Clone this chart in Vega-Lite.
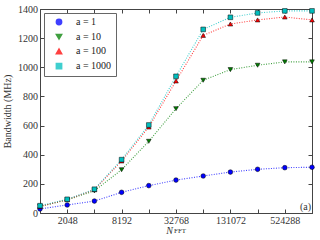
{
  "$schema": "https://vega.github.io/schema/vega-lite/v6.json",
  "width": 272,
  "height": 204,
  "autosize": {"type": "none"},
  "padding": {"left": 40, "top": 9, "right": 8, "bottom": 27},
  "config": {
    "font": "Liberation Serif",
    "view": {"stroke": "#444", "strokeWidth": 1},
    "axis": {
      "grid": false,
      "domainColor": "#444",
      "tickColor": "#444",
      "labelColor": "#333",
      "titleColor": "#333",
      "labelFont": "Liberation Serif",
      "titleFont": "Liberation Serif",
      "labelFontSize": 10,
      "titleFontSize": 10,
      "titleFontWeight": "normal"
    },
    "legend": {
      "labelFont": "Liberation Serif",
      "labelFontSize": 10,
      "labelColor": "#222",
      "padding": 4,
      "symbolSize": 28,
      "symbolOffset": 6,
      "labelOffset": 12,
      "rowPadding": 2.7,
      "orient": "top-left",
      "offset": 4,
      "strokeColor": "#666",
      "fillColor": "white",
      "cornerRadius": 0
    }
  },
  "data": {
    "values": [
      {"n": 1024, "bw": 28, "a": "a = 1"},
      {"n": 2048, "bw": 55, "a": "a = 1"},
      {"n": 4096, "bw": 82, "a": "a = 1"},
      {"n": 8192, "bw": 142, "a": "a = 1"},
      {"n": 16384, "bw": 188, "a": "a = 1"},
      {"n": 32768, "bw": 226, "a": "a = 1"},
      {"n": 65536, "bw": 254, "a": "a = 1"},
      {"n": 131072, "bw": 281, "a": "a = 1"},
      {"n": 262144, "bw": 300, "a": "a = 1"},
      {"n": 524288, "bw": 311, "a": "a = 1"},
      {"n": 1048576, "bw": 314, "a": "a = 1"},
      {"n": 1024, "bw": 45, "a": "a = 10"},
      {"n": 2048, "bw": 90, "a": "a = 10"},
      {"n": 4096, "bw": 152, "a": "a = 10"},
      {"n": 8192, "bw": 297, "a": "a = 10"},
      {"n": 16384, "bw": 492, "a": "a = 10"},
      {"n": 32768, "bw": 716, "a": "a = 10"},
      {"n": 65536, "bw": 911, "a": "a = 10"},
      {"n": 131072, "bw": 984, "a": "a = 10"},
      {"n": 262144, "bw": 1014, "a": "a = 10"},
      {"n": 524288, "bw": 1037, "a": "a = 10"},
      {"n": 1048576, "bw": 1037, "a": "a = 10"},
      {"n": 1024, "bw": 45, "a": "a = 100"},
      {"n": 2048, "bw": 92, "a": "a = 100"},
      {"n": 4096, "bw": 160, "a": "a = 100"},
      {"n": 8192, "bw": 357, "a": "a = 100"},
      {"n": 16384, "bw": 590, "a": "a = 100"},
      {"n": 32768, "bw": 906, "a": "a = 100"},
      {"n": 65536, "bw": 1219, "a": "a = 100"},
      {"n": 131072, "bw": 1297, "a": "a = 100"},
      {"n": 262144, "bw": 1325, "a": "a = 100"},
      {"n": 524288, "bw": 1345, "a": "a = 100"},
      {"n": 1048576, "bw": 1325, "a": "a = 100"},
      {"n": 1024, "bw": 50, "a": "a = 1000"},
      {"n": 2048, "bw": 94, "a": "a = 1000"},
      {"n": 4096, "bw": 163, "a": "a = 1000"},
      {"n": 8192, "bw": 366, "a": "a = 1000"},
      {"n": 16384, "bw": 604, "a": "a = 1000"},
      {"n": 32768, "bw": 938, "a": "a = 1000"},
      {"n": 65536, "bw": 1260, "a": "a = 1000"},
      {"n": 131072, "bw": 1343, "a": "a = 1000"},
      {"n": 262144, "bw": 1373, "a": "a = 1000"},
      {"n": 524288, "bw": 1387, "a": "a = 1000"},
      {"n": 1048576, "bw": 1387, "a": "a = 1000"}
    ]
  },
  "layer": [
    {
      "mark": {"type": "line", "strokeDash": [1, 1.5], "strokeWidth": 1.1, "opacity": 0.75},
      "encoding": {
        "x": {
          "field": "n", "type": "quantitative",
          "scale": {"type": "log", "base": 2, "domain": [1024, 1048576], "nice": false},
          "axis": {
            "orient": "bottom",
            "values": [2048, 4096, 8192, 16384, 32768, 65536, 131072, 262144, 524288],
            "labelExpr": "round(log(datum.value)/LN2) % 2 == 1 ? format(datum.value, 'd') : ''",
            "tickSize": -4,
            "labelPadding": 6,
            "title": "N",
            "titleFontStyle": "italic",
            "titleX": 129,
            "titlePadding": 0
          }
        },
        "y": {
          "field": "bw", "type": "quantitative",
          "scale": {"domain": [0, 1400], "nice": false},
          "axis": {
            "orient": "left",
            "values": [0, 200, 400, 600, 800, 1000, 1200, 1400],
            "format": "d",
            "tickSize": -4,
            "labelPadding": 6.5,
            "title": "Bandwidth (MHz)",
            "titlePadding": 5
          }
        },
        "color": {
          "field": "a", "type": "nominal",
          "scale": {"domain": ["a = 1", "a = 10", "a = 100", "a = 1000"], "range": ["#0000ff", "#008000", "#ff0000", "#00bfbf"]},
          "legend": {"title": null, "strokeColor": "#666", "fillColor": "white"}
        }
      }
    },
    {
      "mark": {"type": "point", "filled": true, "stroke": "black", "strokeWidth": 0.5, "opacity": 1, "size": 22},
      "encoding": {
        "x": {"field": "n", "type": "quantitative", "axis": null},
        "y": {"field": "bw", "type": "quantitative", "axis": null},
        "color": {"field": "a", "type": "nominal", "legend": {"title": null, "strokeColor": "#666", "fillColor": "white"}},
        "shape": {
          "field": "a", "type": "nominal",
          "scale": {"domain": ["a = 1", "a = 10", "a = 100", "a = 1000"], "range": ["circle", "triangle-down", "triangle-up", "square"]},
          "legend": {"title": null, "strokeColor": "#666", "fillColor": "white"}
        }
      }
    },
    {
      "mark": {"type": "point", "opacity": 0},
      "encoding": {
        "x": {
          "field": "n", "type": "quantitative",
          "axis": {
            "orient": "top",
            "values": [2048, 4096, 8192, 16384, 32768, 65536, 131072, 262144, 524288],
            "labels": false,
            "tickSize": -4,
            "title": null
          }
        },
        "y": {
          "field": "bw", "type": "quantitative",
          "axis": {
            "orient": "right",
            "values": [0, 200, 400, 600, 800, 1000, 1200, 1400],
            "labels": false,
            "tickSize": -4,
            "title": null
          }
        }
      }
    },
    {
      "data": {"values": [{"label": "(a)"}]},
      "mark": {"type": "text", "align": "right", "baseline": "bottom", "dx": -1, "dy": -1, "fontSize": 10, "color": "#333"},
      "encoding": {
        "text": {"field": "label"},
        "x": {"datum": 1048576, "type": "quantitative", "axis": null},
        "y": {"datum": 0, "type": "quantitative", "axis": null}
      }
    },
    {
      "data": {"values": [{"label": "FFT"}]},
      "mark": {"type": "text", "align": "left", "baseline": "alphabetic", "dx": -2, "dy": 20, "fontSize": 7, "color": "#333"},
      "encoding": {
        "text": {"field": "label"},
        "x": {"datum": 32768, "type": "quantitative", "axis": null},
        "y": {"datum": 0, "type": "quantitative", "axis": null}
      }
    }
  ],
  "resolve": {"axis": {"x": "independent", "y": "independent"}}
}
